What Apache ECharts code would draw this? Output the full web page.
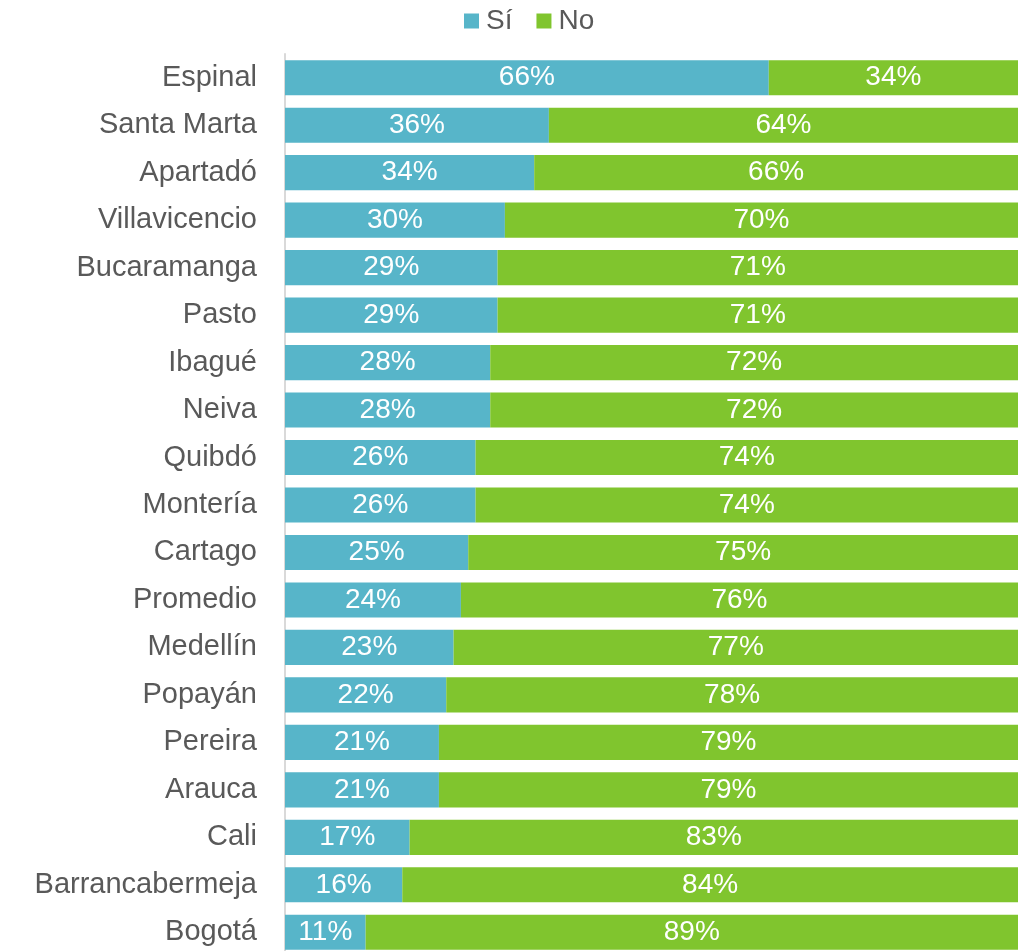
<!DOCTYPE html>
<html>
<head>
<meta charset="utf-8">
<script src="https://cdn.jsdelivr.net/npm/echarts@6/dist/echarts.min.js"></script>
<style>
  html, body { margin: 0; padding: 0; background: #ffffff; overflow: hidden; }
  /* the last row runs slightly past the bottom edge of the window */
  #chart { width: 1018px; height: 956px; }
</style>
</head>
<body>
<div id="chart"></div>
<script>
// Cities, listed top to bottom
const cities = [
  'Espinal', 'Santa Marta', 'Apartadó', 'Villavicencio', 'Bucaramanga', 'Pasto',
  'Ibagué', 'Neiva', 'Quibdó', 'Montería', 'Cartago', 'Promedio', 'Medellín',
  'Popayán', 'Pereira', 'Arauca', 'Cali', 'Barrancabermeja', 'Bogotá'
];
// Share answering "Sí" (%)
const siValues = [66, 36, 34, 30, 29, 29, 28, 28, 26, 26, 25, 24, 23, 22, 21, 21, 17, 16, 11];
// Share answering "No" (%)
const noValues = [34, 64, 66, 70, 71, 71, 72, 72, 74, 74, 75, 76, 77, 78, 79, 79, 83, 84, 89];

const FONT = 'Liberation Sans, Arial, sans-serif';
const chart = echarts.init(document.getElementById('chart'));

const labelStyle = {
  show: true,
  position: 'inside',
  color: '#ffffff',
  fontFamily: FONT,
  fontSize: 28,
  formatter: p => p.value + '%'
};

chart.setOption({
  animation: false,
  legend: {
    top: 2,
    left: 459,
    itemWidth: 15,
    itemHeight: 15,
    itemGap: 24,
    icon: 'rect',
    textStyle: {
      color: '#595959',
      fontFamily: FONT,
      fontSize: 28,
      padding: [0, 0, 0, 2]
    },
    data: ['Sí', 'No']
  },
  grid: { left: 285, right: 0, top: 54, bottom: 0, containLabel: false },
  xAxis: {
    type: 'value',
    min: 0,
    max: 100,
    show: false
  },
  yAxis: {
    type: 'category',
    inverse: true,
    data: cities,
    axisLine: { show: true, lineStyle: { color: '#d9d9d9', width: 2 } },
    axisTick: { show: false },
    axisLabel: {
      color: '#595959',
      fontFamily: FONT,
      fontSize: 29,
      margin: 28
    }
  },
  series: [
    {
      name: 'Sí',
      type: 'bar',
      stack: 'total',
      barCategoryGap: '26%',
      itemStyle: { color: '#57B5C9' },
      label: labelStyle,
      data: siValues
    },
    {
      name: 'No',
      type: 'bar',
      stack: 'total',
      barCategoryGap: '26%',
      itemStyle: { color: '#80C52E' },
      label: labelStyle,
      data: noValues
    }
  ]
});
</script>
</body>
</html>
